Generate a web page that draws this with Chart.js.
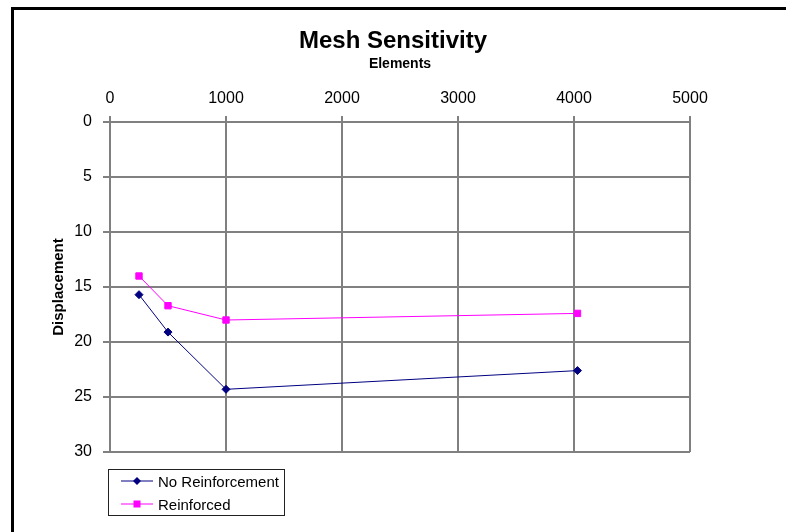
<!DOCTYPE html>
<html>
<head>
<meta charset="utf-8">
<script src="https://cdn.jsdelivr.net/npm/chart.js@4"></script>
<style>
  html, body { margin: 0; padding: 0; background: #fff; overflow: hidden; }
  #wrap { position: relative; width: 786px; height: 532px; overflow: hidden; }
  #frame { position: absolute; left: 11px; top: 7px; width: 900px; height: 700px;
           border-left: 3px solid #000; border-top: 3px solid #000; }
  #chart { position: absolute; left: 0; top: 0; }
  #legend { position: absolute; left: 108px; top: 469px; width: 175px; height: 45px;
            border: 1px solid #222; font: 15px "Liberation Sans", Arial, sans-serif; color: #000; }
  .row { position: absolute; left: 0; height: 20px; display: flex; align-items: center; }
  .row svg { margin-left: 12px; margin-right: 5px; }
</style>
</head>
<body>
<div id="wrap">
  <div id="frame"></div>
  <canvas id="chart" width="786" height="532"></canvas>
  <div id="legend"></div>
</div>
<script>
// Valores
const elements = [250, 500, 1000, 4030];
const noReinforcement = [15.7, 19.1, 24.3, 22.6];
const reinforced = [14.0, 16.7, 18.0, 17.4];
const seriesNames = ['No Reinforcement', 'Reinforced'];
const xTicks = [0, 1000, 2000, 3000, 4000, 5000];
const yTicks = [0, 5, 10, 15, 20, 25, 30];

const FONT = '"Liberation Sans", Arial, sans-serif';
const GRID = '#808080';

function toPoints(xs, ys) {
    return xs.map((x, i) => ({ x: x, y: ys[i] }));
}

// Monta a legenda em HTML
function buildLegend() {
    const legend = document.getElementById('legend');
    const samples = [
        { color: '#000080', marker: '<polygon points="16,1 20,5 16,9 12,5" fill="#000080"/>' },
        { color: '#FF00FF', marker: '<rect x="12.5" y="1.5" width="7" height="7" fill="#FF00FF"/>' }
    ];
    seriesNames.forEach((name, i) => {
        const row = document.createElement('div');
        row.className = 'row';
        row.style.top = (i === 0 ? 1 : 24) + 'px';
        row.innerHTML = `<svg width="32" height="10"><line x1="0" y1="5" x2="32" y2="5" stroke="${samples[i].color}" stroke-width="1"/>${samples[i].marker}</svg><span>${name}</span>`;
        legend.appendChild(row);
    });
}

const ctx = document.getElementById('chart').getContext('2d');
new Chart(ctx, {
    type: 'scatter',
    data: {
        datasets: [
            { label: seriesNames[0], data: toPoints(elements, noReinforcement), showLine: true,
              borderColor: '#000080', borderWidth: 1, backgroundColor: '#000080',
              pointStyle: 'rectRot', pointRadius: 4, pointBorderWidth: 1 },
            { label: seriesNames[1], data: toPoints(elements, reinforced), showLine: true,
              borderColor: '#FF00FF', borderWidth: 1, backgroundColor: '#FF00FF',
              pointStyle: 'rect', pointRadius: 4.5, pointBorderWidth: 1 }
        ]
    },
    options: {
        responsive: false,
        animation: false,
        layout: { padding: { left: 0, right: 0, top: 27, bottom: 80 } },
        scales: {
            x: {
                type: 'linear', position: 'top', min: 0, max: 5000,
                afterBuildTicks: s => { s.ticks = xTicks.map(v => ({ value: v })); },
                afterFit: s => { s.height = 66.2; },
                ticks: { color: '#000', padding: 8, font: { family: FONT, size: 16 }, callback: v => String(v) },
                grid: { color: GRID, lineWidth: 2, tickLength: 6, tickColor: GRID },
                border: { color: GRID, width: 2 },
                title: { display: true, text: 'Elements', color: '#000', padding: { top: 0, bottom: 0 },
                         font: { family: FONT, size: 14, weight: 'bold' } }
            },
            y: {
                type: 'linear', reverse: true, min: 0, max: 30,
                afterBuildTicks: s => { s.ticks = yTicks.map(v => ({ value: v })); },
                afterFit: s => { s.width = 110; },
                ticks: { color: '#000', padding: 11, font: { family: FONT, size: 16 }, callback: v => String(v) },
                grid: { color: GRID, lineWidth: 2, tickLength: 7, tickColor: GRID },
                border: { color: GRID, width: 2 },
                title: { display: true, text: 'Displacement', color: '#000', padding: { top: 50, bottom: 0 },
                         font: { family: FONT, size: 15, weight: 'bold' } }
            },
            // eixo vazio à direita, só para reservar o espaço
            yRight: {
                type: 'linear', position: 'right', min: 0, max: 30,
                afterFit: s => { s.width = 96; },
                ticks: { display: false },
                grid: { display: false },
                border: { display: false }
            }
        },
        plugins: {
            legend: { display: false },
            tooltip: { enabled: false },
            title: { display: true, text: 'Mesh Sensitivity', color: '#000', padding: { top: 0, bottom: 0 },
                     font: { family: FONT, size: 24, weight: 'bold' } }
        }
    }
});

buildLegend();
</script>
</body>
</html>
